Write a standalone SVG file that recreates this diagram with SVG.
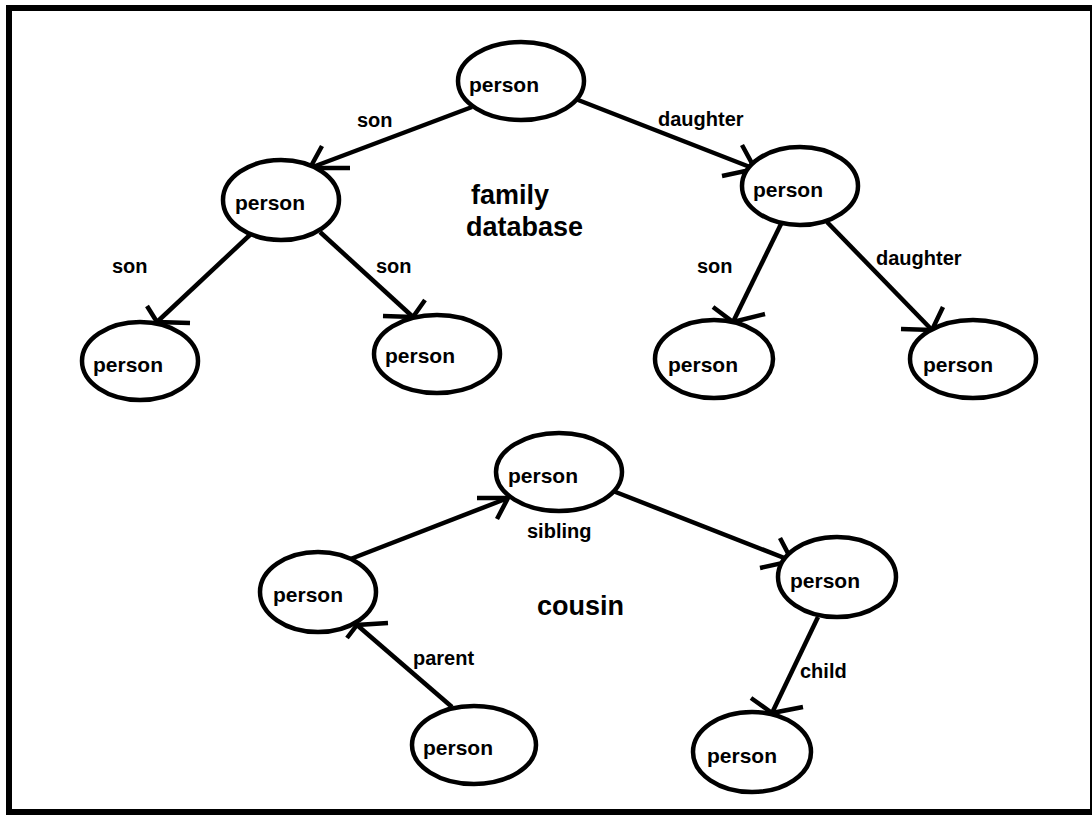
<svg xmlns="http://www.w3.org/2000/svg" width="1092" height="815" viewBox="0 0 1092 815">
<style>
.node ellipse{fill:#fff;stroke:#000;stroke-width:4.5}
.node text{font-family:"Liberation Sans",Arial,sans-serif;font-weight:bold;font-size:21px;fill:#000}
#connectors line,#connectors path{stroke:#000;stroke-width:4.5;fill:none;stroke-linecap:butt}
.lbl{font-family:"Liberation Sans",Arial,sans-serif;font-weight:bold;font-size:20px;fill:#000}
.title{font-family:"Liberation Sans",Arial,sans-serif;font-weight:bold;font-size:27px;fill:#000}
</style>
<rect x="0" y="0" width="1092" height="815" fill="#fff"/>
<rect x="9" y="8" width="1084" height="804" fill="none" stroke="#000" stroke-width="6"/>
<g id="connectors">
<line x1="472" y1="107" x2="310" y2="168"/><path d="M322,146 L310,168 L350,168"/>
<line x1="573" y1="98" x2="755" y2="169"/><path d="M742,145 L755,169 L722,176"/>
<line x1="253" y1="232" x2="157" y2="322"/><path d="M147,306 L157,322 L190,323"/>
<line x1="320" y1="232" x2="413" y2="317"/><path d="M425,300 L413,317 L383,316"/>
<line x1="782" y1="222" x2="733" y2="322"/><path d="M713,307 L733,322 L765,314"/>
<line x1="827" y1="222" x2="932" y2="330"/><path d="M943,307 L932,330 L901,329"/>
<line x1="348" y1="560" x2="508" y2="498"/><path d="M477,498 L508,498 L497,519"/>
<line x1="613" y1="491" x2="792" y2="561"/><path d="M780,538 L792,561 L760,568"/>
<line x1="452" y1="707" x2="357" y2="625"/><path d="M388,623 L357,625 L347,638"/>
<line x1="818" y1="617" x2="772" y2="713"/><path d="M751,698 L772,713 L803,707"/>
<text class="lbl" x="357" y="127">son</text>
<text class="lbl" x="658" y="126">daughter</text>
<text class="lbl" x="112" y="273">son</text>
<text class="lbl" x="376" y="273">son</text>
<text class="lbl" x="697" y="273">son</text>
<text class="lbl" x="876" y="265">daughter</text>
<text class="lbl" x="527" y="538">sibling</text>
<text class="lbl" x="413" y="665">parent</text>
<text class="lbl" x="800" y="678">child</text>
</g>
<g id="n1" class="node"><ellipse cx="521" cy="81" rx="63" ry="39"/><text x="469" y="92">person</text></g>
<g id="n2" class="node"><ellipse cx="281" cy="200" rx="58" ry="40"/><text x="235" y="210">person</text></g>
<g id="n3" class="node"><ellipse cx="800" cy="186" rx="58" ry="39"/><text x="753" y="197">person</text></g>
<g id="n4" class="node"><ellipse cx="140" cy="361" rx="58" ry="39"/><text x="93" y="372">person</text></g>
<g id="n5" class="node"><ellipse cx="437" cy="354" rx="63" ry="39"/><text x="385" y="363">person</text></g>
<g id="n6" class="node"><ellipse cx="714" cy="359" rx="59" ry="39"/><text x="668" y="372">person</text></g>
<g id="n7" class="node"><ellipse cx="973" cy="359" rx="63" ry="39"/><text x="923" y="372">person</text></g>
<g id="n8" class="node"><ellipse cx="559" cy="472" rx="63" ry="39"/><text x="508" y="483">person</text></g>
<g id="n9" class="node"><ellipse cx="318" cy="592" rx="58" ry="40"/><text x="273" y="602">person</text></g>
<g id="n10" class="node"><ellipse cx="474" cy="745" rx="62" ry="39"/><text x="423" y="755">person</text></g>
<g id="n11" class="node"><ellipse cx="837" cy="577" rx="59" ry="40"/><text x="790" y="588">person</text></g>
<g id="n12" class="node"><ellipse cx="752" cy="752" rx="59" ry="40"/><text x="707" y="763">person</text></g>
<text class="title" x="471" y="204">family</text>
<text class="title" x="466" y="236">database</text>
<text class="title" x="537" y="615">cousin</text>
</svg>
